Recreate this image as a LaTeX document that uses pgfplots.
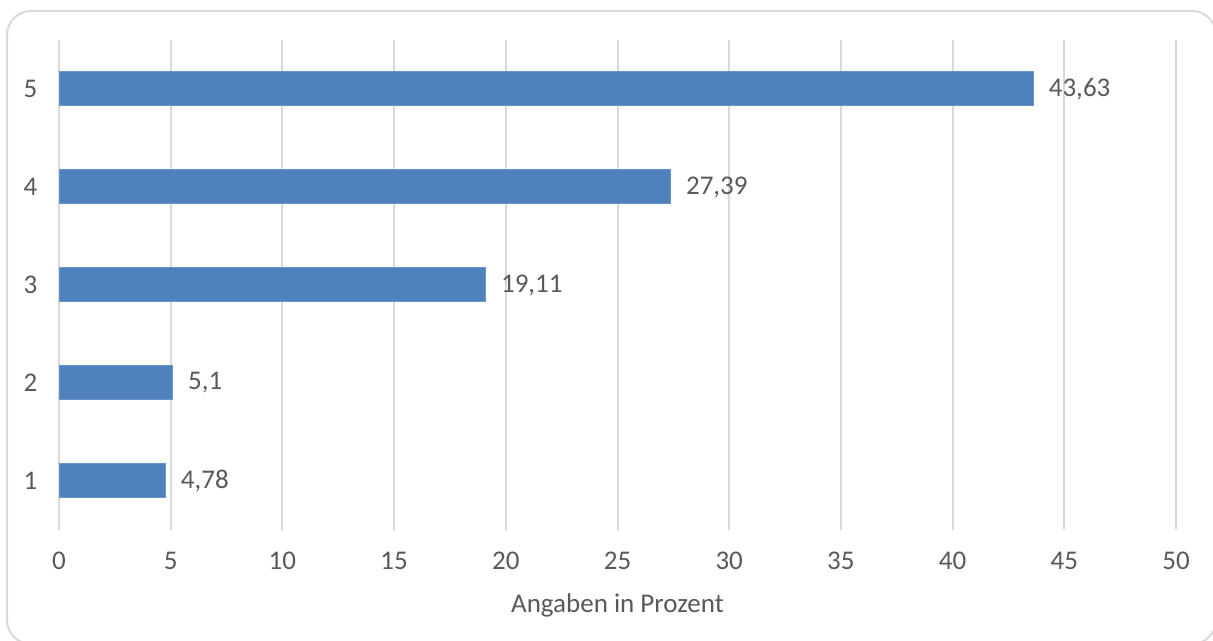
\documentclass[border=0pt]{standalone}
\usepackage{pgfplots}
\pgfplotsset{compat=1.18}
\usepackage{fontspec}
\setmainfont{Carlito}
\definecolor{barblue}{HTML}{4F81BD}
\definecolor{txtgray}{HTML}{595959}
\definecolor{gridgray}{HTML}{D9D9D9}
\begin{document}
\begin{tikzpicture}
\useasboundingbox (0,0) rectangle (606.5pt,320.5pt);
% chart frame, partly cut off at right and bottom as in the original
\draw[gridgray, line width=1pt, rounded corners=12pt] (3.5pt,315pt) rectangle (608pt,-1.5pt);
\begin{axis}[
  at={(29.5pt,55.5pt)}, anchor=south west,
  scale only axis, width=558.5pt, height=245pt,
  xbar, bar width=17pt,
  xmin=0, xmax=50, ymin=0.5, ymax=5.5,
  xtick={0,5,...,50}, ytick={1,2,3,4,5},
  xmajorgrids, grid style={gridgray, line width=1pt},
  axis line style={draw=none}, major tick style={draw=none},
  ticklabel style={font=\fontsize{13.5}{16}\selectfont, text=txtgray},
  xticklabel style={yshift=-7.5pt},
  yticklabel style={xshift=-3pt},
  xlabel={Angaben in Prozent},
  xlabel style={at={(axis description cs:0.5,0)}, anchor=center, yshift=-37.5pt,
    font=\fontsize{13.5}{16}\selectfont, text=txtgray},
  /pgf/number format/assume math mode=true,
  /pgf/number format/use comma,
  nodes near coords,
  every node near coord/.append style={font=\fontsize{13.5}{16}\selectfont, text=txtgray, xshift=4pt},
]
\addplot[fill=barblue, draw=barblue!85!white, line width=0.5pt] coordinates {
  (4.78,1) (5.1,2) (19.11,3) (27.39,4) (43.63,5)
};
\end{axis}
\end{tikzpicture}
\end{document}
